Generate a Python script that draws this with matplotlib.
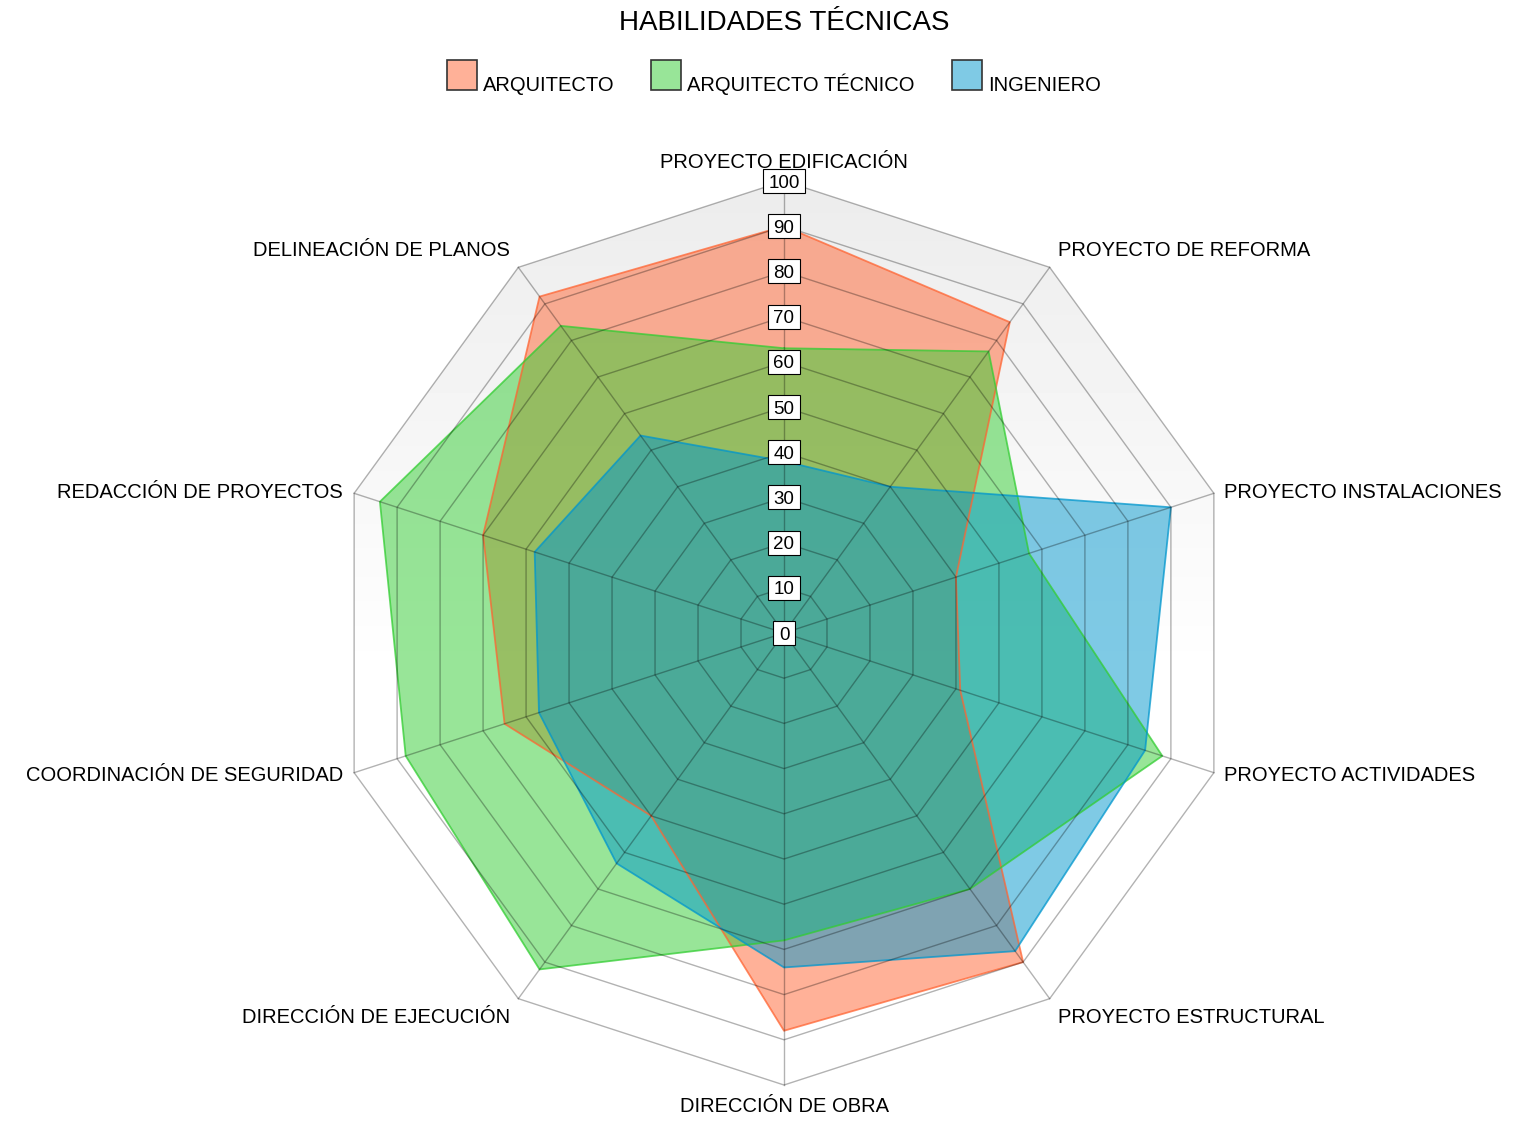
#-----------------------------------------------------------------------
#---- plot.py : Radar habilidades tecnicas
#-----------------------------------------------------------------------

import numpy as np
import matplotlib
matplotlib.use("Agg")
import matplotlib.pyplot as plt
from matplotlib.patches import Polygon, Rectangle


#---- Donnees
categories = ["PROYECTO EDIFICACIÓN", "PROYECTO DE REFORMA", "PROYECTO INSTALACIONES",
              "PROYECTO ACTIVIDADES", "PROYECTO ESTRUCTURAL", "DIRECCIÓN DE OBRA",
              "DIRECCIÓN DE EJECUCIÓN", "COORDINACIÓN DE SEGURIDAD",
              "REDACCIÓN DE PROYECTOS", "DELINEACIÓN DE PLANOS"]

arquitecto  = [90, 85, 40, 41, 90, 88, 50, 65, 70, 92]
arq_tecnico = [63, 77, 57, 88, 70, 68, 92, 88, 94, 84]
ingeniero   = [38, 40, 90, 84, 87, 74, 63, 57, 58, 54]

series_names = ["ARQUITECTO", "ARQUITECTO TÉCNICO", "INGENIERO"]
series_colors = ["#FF6432", "#32CD32", "#0096CD"]
ticks = [0, 10, 20, 30, 40, 50, 60, 70, 80, 90, 100]

#---- Mise en page (pixels)
W, H = 1536, 1129
CX, CY = 784, 633
SCALE = 4.52

# decalages des libelles (px) : (dx, dy, ha)
label_off = [(0, 18, "center"), (8, 17, "left"), (10, 1, "left"), (10, -3, "left"),
             (8, -19, "left"), (0, -21, "center"), (-8, -19, "right"),
             (-11, -3, "right"), (-11, 1, "right"), (-8, 17, "right")]

legend_x = [447, 651, 952]


#-----------------------------------------------------------------------
#---- Coordonnees des sommets
#-----------------------------------------------------------------------
def toXY(values):
    n = len(values)
    ang = np.deg2rad(np.arange(n) * 360.0 / n)
    v = np.asarray(values, dtype=float)
    return v * np.sin(ang), v * np.cos(ang)


#-----------------------------------------------------------------------
#---- Main script
#-----------------------------------------------------------------------
def main():

    plt.rcParams["font.family"] = ["Liberation Sans", "DejaVu Sans"]

    fig = plt.figure(figsize=(W / 100, H / 100), dpi=100)
    ax = fig.add_axes([0, 0, 1, 1])
    ax.set_xlim(-CX / SCALE, (W - CX) / SCALE)
    ax.set_ylim(-(H - CY) / SCALE, CY / SCALE)
    ax.axis("off")

    n = len(categories)
    rmax = ticks[-1]

    #--- Fond degrade dans le decagone
    ox, oy = toXY([rmax] * n)
    outer = Polygon(np.column_stack([ox, oy]), closed=True, fc="none", ec="none")
    ax.add_patch(outer)
    yy = np.linspace(-rmax, rmax, 256)
    grad = np.clip(1.0 - 0.075 * (yy + 10) / (rmax + 10), 0.925, 1.0)[:, None]
    im = ax.imshow(grad, extent=[-rmax, rmax, -rmax, rmax], origin="lower",
                   cmap="gray", vmin=0, vmax=1, aspect="auto", zorder=1)
    im.set_clip_path(outer)

    #--- Series
    for vals, col in zip([arquitecto, arq_tecnico, ingeniero], series_colors):
        x, y = toXY(vals)
        ax.fill(x, y, color=col, alpha=0.5, lw=0, zorder=2)
        ax.plot(np.append(x, x[0]), np.append(y, y[0]), color=col, alpha=0.75,
                lw=1.3, zorder=3)

    #--- Grille
    for t in ticks[1:]:
        gx, gy = toXY([t] * n)
        ax.plot(np.append(gx, gx[0]), np.append(gy, gy[0]), color="black",
                alpha=0.3, lw=1, zorder=4)
    for k in range(n):
        ax.plot([0, ox[k]], [0, oy[k]], color="black", alpha=0.3, lw=1, zorder=4)

    #--- Graduations (boites blanches)
    for t in ticks:
        s = str(t)
        bw = (10.3 * len(s) + 11) / SCALE
        bh = 24 / SCALE
        ax.add_patch(Rectangle((-bw / 2, t - bh / 2), bw, bh, fc="white",
                               ec="black", lw=0.8, zorder=5))
        ax.text(0, t - 6.5 / SCALE, s, ha="center", va="baseline", fontsize=13.5,
                zorder=6)

    #--- Libelles des axes
    for k, lab in enumerate(categories):
        dx, dy, ha = label_off[k]
        ax.annotate(lab, (ox[k], oy[k]), xytext=(dx, dy), textcoords="offset pixels",
                    ha=ha, va="center", fontsize=14.5, zorder=6)

    #--- Titre
    fig.text(CX / W, 1 - 23 / H, "HABILIDADES TÉCNICAS", ha="center", va="center",
             fontsize=20)

    #--- Legende
    for name, col, lx in zip(series_names, series_colors, legend_x):
        rgba = matplotlib.colors.to_rgba(col, 0.5)
        fig.patches.append(Rectangle((lx / W, 1 - 90 / H), 30 / W, 30 / H,
                                     transform=fig.transFigure, fc=rgba,
                                     ec="#333333", lw=1.2))
        fig.text((lx + 36) / W, 1 - 91 / H, name, ha="left", va="baseline",
                 fontsize=14.5)

    fig.savefig("out.png", dpi=100)


#-----------------------------------------------------------------------
if __name__ == "__main__":
    main()
